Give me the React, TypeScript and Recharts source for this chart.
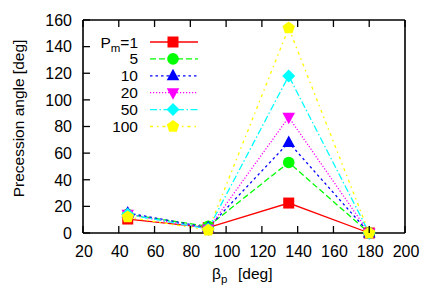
import { LineChart, Line, XAxis, YAxis } from "recharts";

const betaP = [45, 90, 135, 180];
const pm1 = [10.5, 4, 22.5, 0];
const pm5 = [14, 5, 53, 0];
const pm10 = [15, 4, 68, 0];
const pm20 = [14, 3, 87, 0];
const pm50 = [14, 3, 118, 0];
const pm100 = [12, 2, 154, 0];

const xTicks = [20, 40, 60, 80, 100, 120, 140, 160, 180, 200];
const yTicks = [0, 20, 40, 60, 80, 100, 120, 140, 160];
const pmLabels = ["1", "5", "10", "20", "50", "100"];

const FONT = "'Liberation Sans', Arial, Helvetica, sans-serif";
const TICK = 7;

const SERIES = [
  { key: "pm1", values: pm1, color: "#ff0000", dash: undefined, shape: "square" },
  { key: "pm5", values: pm5, color: "#00ff00", dash: "6 3", shape: "circle" },
  { key: "pm10", values: pm10, color: "#0000ff", dash: "2.5 3", shape: "triangle" },
  { key: "pm20", values: pm20, color: "#ff00ff", dash: "1.2 1.8", shape: "triangleDown" },
  { key: "pm50", values: pm50, color: "#00ffff", dash: "7 2.5 1.5 2.5", shape: "diamond" },
  { key: "pm100", values: pm100, color: "#ffff00", dash: "3 4 1.5 4", shape: "pentagon" },
];

const data = betaP.map((b, i) => {
  const row: Record<string, number> = { beta: b };
  SERIES.forEach((s) => (row[s.key] = s.values[i]));
  return row;
});

function Marker({ shape, cx, cy, color }: { shape: string; cx: number; cy: number; color: string }) {
  if (cx == null || cy == null) return null;
  switch (shape) {
    case "square":
      return <rect x={cx - 5.5} y={cy - 5.5} width={11} height={11} fill={color} />;
    case "circle":
      return <circle cx={cx} cy={cy} r={5.8} fill={color} />;
    case "triangle":
      return <polygon points={`${cx},${cy - 7} ${cx - 6.3},${cy + 4.5} ${cx + 6.3},${cy + 4.5}`} fill={color} />;
    case "triangleDown":
      return <polygon points={`${cx},${cy + 7} ${cx - 6.3},${cy - 4.5} ${cx + 6.3},${cy - 4.5}`} fill={color} />;
    case "diamond":
      return <polygon points={`${cx},${cy - 6.5} ${cx + 6.5},${cy} ${cx},${cy + 6.5} ${cx - 6.5},${cy}`} fill={color} />;
    default: {
      const pts = [0, 1, 2, 3, 4]
        .map((k) => {
          const a = -Math.PI / 2 + (k * 2 * Math.PI) / 5;
          return `${cx + 6.5 * Math.cos(a)},${cy + 6.5 * Math.sin(a)}`;
        })
        .join(" ");
      return <polygon points={pts} fill={color} />;
    }
  }
}

const BottomTick = (p: any) => (
  <g>
    <line x1={p.x} x2={p.x} y1={p.y} y2={p.y - TICK} stroke="#000" strokeWidth={1.3} />
    <text x={p.x + 1} y={p.y + 24} textAnchor="middle" fontSize={16} fontFamily={FONT} fill="#000">
      {p.payload.value}
    </text>
  </g>
);
const TopTick = (p: any) => <line x1={p.x} x2={p.x} y1={p.y} y2={p.y + TICK} stroke="#000" strokeWidth={1.3} />;
const LeftTick = (p: any) => (
  <g>
    <line x1={p.x} x2={p.x + TICK} y1={p.y} y2={p.y} stroke="#000" strokeWidth={1.3} />
    <text x={p.x - 11} y={p.y + 5.8} textAnchor="end" fontSize={16} fontFamily={FONT} fill="#000">
      {p.payload.value}
    </text>
  </g>
);
const RightTick = (p: any) => <line x1={p.x} x2={p.x - TICK} y1={p.y} y2={p.y} stroke="#000" strokeWidth={1.3} />;

const axisLine = { stroke: "#000", strokeWidth: 1.6 };

export default function App() {
  return (
    <div style={{ position: "absolute", left: 0, top: 0, width: 436, height: 305, background: "#fff" }}>
      <LineChart width={436} height={305} data={data} margin={{ top: 19, right: 30, left: 0, bottom: 0 }}>
        <XAxis
          dataKey="beta"
          type="number"
          domain={[20, 200]}
          ticks={xTicks}
          interval={0}
          height={72}
          tickSize={0}
          tickMargin={0}
          tickLine={false}
          axisLine={axisLine}
          tick={BottomTick}
        />
        <XAxis
          xAxisId="top"
          orientation="top"
          dataKey="beta"
          type="number"
          domain={[20, 200]}
          ticks={xTicks}
          interval={0}
          height={1}
          tickSize={0}
          tickMargin={0}
          tickLine={false}
          axisLine={axisLine}
          tick={TopTick}
        />
        <YAxis
          type="number"
          domain={[0, 160]}
          ticks={yTicks}
          interval={0}
          width={83}
          tickSize={0}
          tickMargin={0}
          tickLine={false}
          axisLine={axisLine}
          tick={LeftTick}
        />
        <YAxis
          yAxisId="right"
          orientation="right"
          type="number"
          domain={[0, 160]}
          ticks={yTicks}
          interval={0}
          width={1}
          tickSize={0}
          tickMargin={0}
          tickLine={false}
          axisLine={axisLine}
          tick={RightTick}
        />
        {SERIES.map((s) => (
          <Line
            key={s.key}
            dataKey={s.key}
            stroke={s.color}
            strokeWidth={1.3}
            strokeDasharray={s.dash}
            isAnimationActive={false}
            dot={(d: any) => (
              <Marker key={`${s.key}-${d.index}`} shape={s.shape} cx={d.cx} cy={d.cy} color={s.color} />
            )}
            activeDot={false}
          />
        ))}
      </LineChart>
      <svg width={436} height={305} style={{ position: "absolute", left: 0, top: 0, pointerEvents: "none" }}>
        {SERIES.map((s, i) => {
          const y = 42 + i * 16.9;
          return (
            <g key={s.key}>
              <text x={138} y={y + 5.5} textAnchor="end" fontSize={15.5} fontFamily={FONT} fill="#000">
                {i === 0 ? (
                  <>
                    <tspan>P</tspan>
                    <tspan dy={4} fontSize={11.5}>m</tspan>
                    <tspan dy={-4}>={pmLabels[i]}</tspan>
                  </>
                ) : (
                  pmLabels[i]
                )}
              </text>
              <line x1={150} x2={198} y1={y} y2={y} stroke={s.color} strokeWidth={1.3} strokeDasharray={s.dash} />
              <Marker shape={s.shape} cx={173} cy={y} color={s.color} />
            </g>
          );
        })}
        <text x={212} y={279} fontSize={15.5} fontFamily={FONT} fill="#000">
          <tspan>β</tspan>
          <tspan dy={4} fontSize={11.5}>p</tspan>
          <tspan dy={-4} x={238}>[deg]</tspan>
        </text>
        <text
          transform="translate(24,118.5) rotate(-90)"
          textAnchor="middle"
          fontSize={15.5}
          fontFamily={FONT}
          fill="#000"
        >
          Precession angle [deg]
        </text>
      </svg>
    </div>
  );
}
